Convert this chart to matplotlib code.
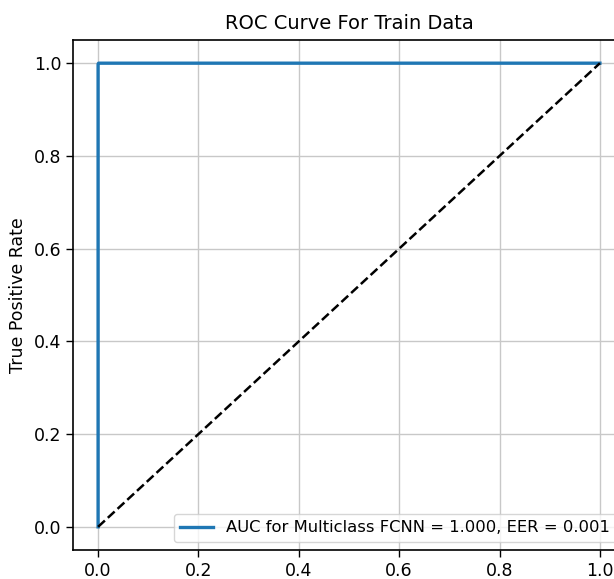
import matplotlib
matplotlib.use("Agg")
import matplotlib.pyplot as plt

fpr = [0.0, 0.0, 0.001, 1.0]
tpr = [0.0, 0.998, 1.0, 1.0]
diag_x = [0.0, 1.0]
diag_y = [0.0, 1.0]
auc = 1.000
eer = 0.001
title = "ROC Curve For Train Data"
ylabel = "True Positive Rate"
ticks = [0.0, 0.2, 0.4, 0.6, 0.8, 1.0]

plt.rcParams['font.family'] = ['DejaVu Sans']
W, H = 614, 579
fig = plt.figure(figsize=(W / 100, H / 100), dpi=100)
left, right, top, bottom = 73, 625, 40, 550
ax = fig.add_axes([left / W, (H - bottom) / H, (right - left) / W, (bottom - top) / H])

ax.plot(fpr, tpr, color='#1f77b4', lw=2.4,
        label=f"AUC for Multiclass FCNN = {auc:.3f}, EER = {eer:.3f}")
ax.plot(diag_x, diag_y, 'k--', lw=1.8)
ax.set_xlim(-0.05, 1.05)
ax.set_ylim(-0.05, 1.05)
ax.set_xticks(ticks)
ax.set_yticks(ticks)
ax.tick_params(labelsize=12.5, length=5, width=1)
ax.grid(True, color='#c8c8c8', lw=1)
ax.set_title(title, fontsize=14, pad=8)
ax.set_ylabel(ylabel, fontsize=12.5, labelpad=5)
for s in ax.spines.values():
    s.set_linewidth(1.2)
ax.legend(loc='lower right', fontsize=11.8, handlelength=2.0)

fig.savefig("out.png", dpi=100)
